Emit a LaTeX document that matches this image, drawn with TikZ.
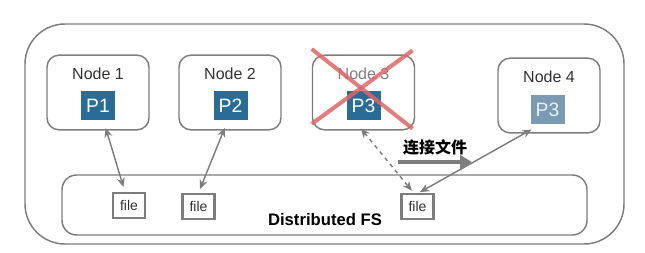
\documentclass[tikz,border=0pt]{standalone}
\usepackage{fontspec}
\setmainfont{Liberation Sans}
\newfontfamily\cjk{Noto Sans CJK SC}
\usepackage{tikz}
\usetikzlibrary{arrows.meta, positioning, calc}
\usepackage{xcolor}
\definecolor{colline}{RGB}{125,125,125}
\definecolor{coltext}{RGB}{50,50,50}
\definecolor{colproc}{RGB}{42,108,152}
\definecolor{colghost}{RGB}{122,155,180}
\definecolor{colcross}{RGB}{225,100,100}

\begin{document}
\begin{tikzpicture}[
  x=0.75pt, y=-0.75pt,
  host/.style={rectangle, rounded corners=9pt, draw=colline, line width=1.1pt,
               minimum width=76.5pt, minimum height=56pt},
  title/.style={font=\fontsize{12}{14}\selectfont, text=coltext, inner sep=0pt},
  proc/.style={rectangle, fill=colproc, text=white, minimum width=25.5pt,
               minimum height=21.75pt, inner sep=0pt,
               font=\fontsize{14.5}{16}\selectfont},
  ghost/.style={proc, fill=colghost, text=white!85!colghost},
  filebox/.style={rectangle, draw=colline, line width=1.1pt, fill=white,
                  minimum width=24pt, minimum height=19pt, inner sep=0pt,
                  font=\fontsize{10.5}{12}\selectfont, text=coltext},
  darr/.style={{Stealth[length=7pt,width=6pt]}-{Stealth[length=7pt,width=6pt]},
               line width=1.1pt, colline},
  bigarr/.style={-{Triangle[length=9pt,width=10pt]}, line width=3pt, colline},
  cross/.style={line width=3pt, colcross, opacity=0.85}
]
\useasboundingbox (0,0) rectangle (645,253);

% Cluster frame
\draw[colline, line width=1.1pt, rounded corners=30pt] (25,24) rectangle (624,244);

% Distributed file system
\node[rectangle, rounded corners=11pt, draw=colline, line width=1.1pt,
      minimum width=393.75pt, minimum height=45pt] (fs) at (324.5,205) {};
\node[font=\fontsize{12.5}{14}\selectfont\bfseries, text=black] (fslabel)
    at (325,220) {Distributed FS};

% Hosts
\node[host] (n1) at (98,92.5) {};
\node[host] (n2) at (230,92.5) {};
\node[host] (n3) at (363.5,92.5) {};
\node[host] (n4) at (549,95.5) {};

\node[title, below=10pt of n1.north] (t1) {Node 1};
\node[title, below=10pt of n2.north] (t2) {Node 2};
\node[title, below=10pt of n3.north, text=colline] (t3) {Node 3};
\node[title, below=10pt of n4.north] (t4) {Node 4};

% Processes
\node[proc]  (p1) at (98,105.5) {P1};
\node[proc]  (p2) at (230.5,105.5) {P2};
\node[proc]  (p3) at (363.5,105.5) {P3};
\node[ghost] (q3) at (547.5,109.5) {P3};

% Files
\node[filebox] (f1) at (129,205.5) {file};
\node[filebox, line width=1.6pt] (f2) at (198.5,206.5) {file};
\node[filebox, line width=1.6pt] (f3) at (417.5,206.5) {file};

% Node 3 is down
\draw[cross] ([yshift=4pt]n3.north west) -- ([xshift=-2pt,yshift=1.5pt]n3.south east);
\draw[cross] ([xshift=-2pt,yshift=3pt]n3.north east) -- ([yshift=5pt]n3.south west);

% File access
\draw[darr, shorten <=6pt, shorten >=4pt] ([xshift=4pt]p1.south) -- ([xshift=-3pt]f1.north);
\draw[darr, shorten <=6pt, shorten >=3pt] ([xshift=-2pt]p2.south) -- (f2.north);
\draw[darr, dashed, shorten <=8pt, shorten >=2pt] ([xshift=-7pt]p3.south) -- ([xshift=-3pt]f3.north);
\draw[darr, shorten <=8pt, shorten >=1pt] ([xshift=-5pt]q3.south) -- ([xshift=1pt]f3.north);

% Reconnect
\node[font=\cjk\fontsize{12}{14}\selectfont\bfseries, text=black] (recon)
    at (435,147) {连接文件};
\coordinate (rs) at (398,162);
\coordinate (re) at (472,162);
\draw[bigarr] (rs) -- (re);
\end{tikzpicture}
\end{document}
